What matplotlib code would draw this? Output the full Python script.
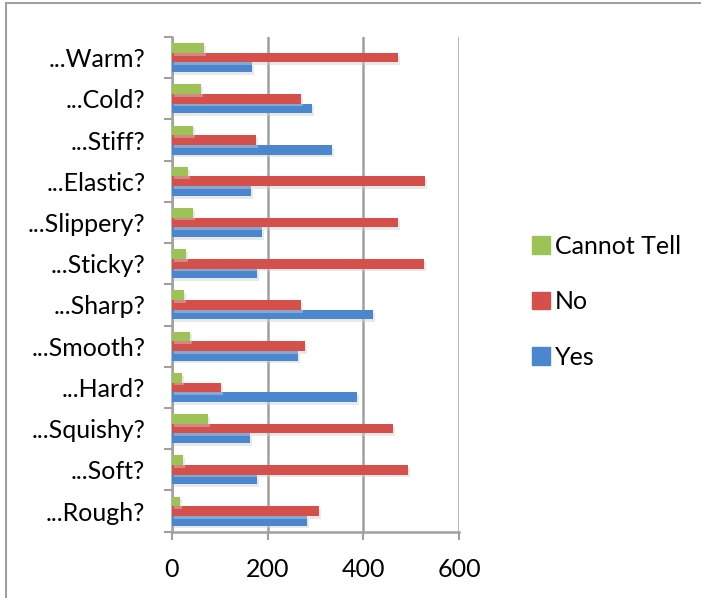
import matplotlib
matplotlib.use('Agg')
import matplotlib.pyplot as plt
import matplotlib.patheffects as pe
from matplotlib.patches import Patch
from matplotlib.lines import Line2D
import numpy as np

plt.rcParams['font.family'] = ['Lato', 'DejaVu Sans']

# categories bottom -> top
categories = ['...Rough?', '...Soft?', '...Squishy?', '...Hard?', '...Smooth?', '...Sharp?',
              '...Sticky?', '...Slippery?', '...Elastic?', '...Stiff?', '...Cold?', '...Warm?']
yes = [282, 178, 163, 386, 263, 420, 178, 188, 165, 334, 293, 167]
no = [307, 493, 462, 103, 278, 270, 526, 472, 528, 176, 270, 472]
cannot_tell = [17, 24, 76, 21, 38, 26, 30, 44, 34, 44, 61, 67]

blue = '#4A87CF'
red = '#D5504A'
green = '#9DC357'
grey = '#A0A0A0'

fig = plt.figure(figsize=(7.01, 5.98), dpi=100)
ax = fig.add_axes([0.2449, 0.1109, 0.6552 - 0.2449, 0.9381 - 0.1109])

y = np.arange(len(categories))
h = 0.235
shadow = [pe.SimplePatchShadow(offset=(1.5, -2), shadow_rgbFace='#d0d0d0', alpha=0.45), pe.Normal()]

ax.barh(y - h, yes, height=h, color=blue, path_effects=shadow, zorder=3)
ax.barh(y, no, height=h, color=red, path_effects=shadow, zorder=3)
ax.barh(y + h, cannot_tell, height=h, color=green, path_effects=shadow, zorder=3)

ax.set_xlim(0, 600)
ax.set_ylim(-0.5, len(categories) - 0.5)
ax.set_xticks([0, 200, 400, 600])
ax.set_yticks(y)
ax.set_yticklabels(categories)
ax.set_yticks(np.arange(-0.5, len(categories)), minor=True)

ax.tick_params(axis='y', which='major', length=0, pad=19, labelsize=18)
ax.tick_params(axis='y', which='minor', length=6, width=1.5, color=grey, direction='out')
ax.tick_params(axis='x', length=6, width=1.5, color=grey, direction='out', pad=13, labelsize=18)

ax.grid(axis='x', color=grey, linewidth=1.8, zorder=0)
for s in ['top', 'right']:
    ax.spines[s].set_visible(False)
for s in ['left', 'bottom']:
    ax.spines[s].set_color(grey)
    ax.spines[s].set_linewidth(1.8)
ax.set_axisbelow(True)

handles = [Patch(color=green), Patch(color=red), Patch(color=blue)]
fig.legend(handles, ['Cannot Tell', 'No', 'Yes'], loc='center left',
           bbox_to_anchor=(0.727, 0.495), frameon=False, fontsize=18,
           handlelength=0.7, handleheight=0.7, handletextpad=0.2, labelspacing=1.3)

# outer chart border
fig.add_artist(Line2D([0.0085, 0.0085], [0, 0.995], color=grey, linewidth=1.5))
fig.add_artist(Line2D([0.0085, 1], [0.995, 0.995], color=grey, linewidth=1.5))

fig.savefig('out.png', dpi=100)
